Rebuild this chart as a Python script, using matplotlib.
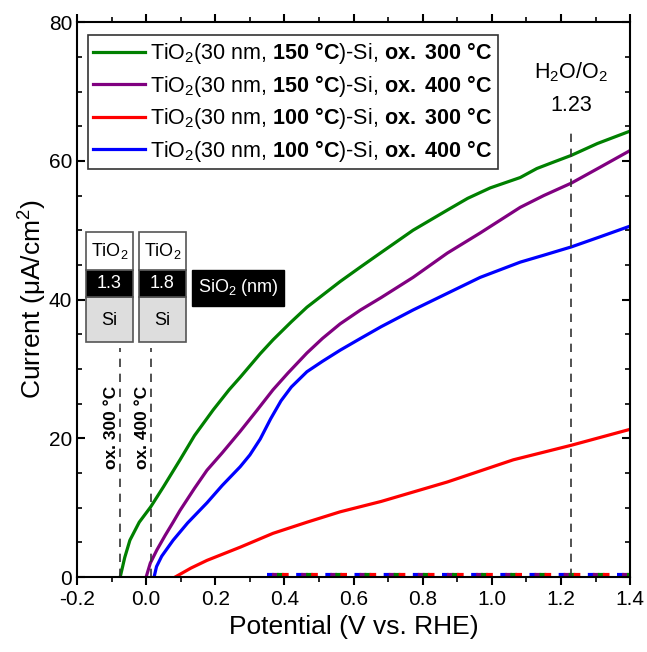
import matplotlib
matplotlib.use("Agg")
from matplotlib import pyplot as plt
from matplotlib.patches import Rectangle
from matplotlib.ticker import MultipleLocator

plt.rcParams['font.family'] = ['Liberation Sans', 'DejaVu Sans']
plt.rcParams['mathtext.fontset'] = 'custom'
plt.rcParams['mathtext.rm'] = 'Liberation Sans'
plt.rcParams['mathtext.it'] = 'Liberation Sans:italic'
plt.rcParams['mathtext.bf'] = 'Liberation Sans:bold'

# light currents
x_g150_300 = [-0.075, -0.062, -0.047, -0.02, 0.013, 0.05, 0.098, 0.14, 0.194, 0.24, 0.272, 0.33, 0.367, 0.42, 0.465, 0.561, 0.62, 0.68, 0.772, 0.871, 0.93, 0.995, 1.082, 1.13, 1.177, 1.23, 1.305, 1.4]
y_g150_300 = [0.0, 2.8, 5.3, 7.9, 10.1, 13.0, 16.9, 20.4, 24.1, 27.0, 28.8, 32.2, 34.2, 36.8, 38.9, 42.6, 44.7, 46.8, 50.0, 52.9, 54.6, 56.1, 57.6, 58.9, 59.8, 60.8, 62.5, 64.3]

x_g150_400 = [0.0, 0.012, 0.031, 0.055, 0.078, 0.098, 0.14, 0.176, 0.22, 0.272, 0.32, 0.367, 0.41, 0.465, 0.51, 0.561, 0.62, 0.68, 0.772, 0.871, 0.966, 1.082, 1.15, 1.23, 1.31, 1.4]
y_g150_400 = [0.0, 2.0, 3.9, 6.0, 7.9, 9.6, 12.8, 15.4, 17.9, 21.0, 24.0, 27.0, 29.4, 32.3, 34.4, 36.5, 38.5, 40.3, 43.2, 46.7, 49.6, 53.3, 55.0, 56.8, 59.0, 61.5]

x_g100_300 = [0.084, 0.13, 0.176, 0.272, 0.367, 0.465, 0.561, 0.68, 0.871, 1.062, 1.23, 1.4]
y_g100_300 = [0.0, 1.3, 2.4, 4.3, 6.3, 7.9, 9.4, 10.9, 13.7, 16.9, 19.0, 21.3]

x_g100_400 = [0.023, 0.03, 0.045, 0.078, 0.12, 0.176, 0.22, 0.272, 0.3, 0.33, 0.36, 0.39, 0.42, 0.465, 0.51, 0.561, 0.62, 0.68, 0.772, 0.871, 0.966, 1.082, 1.15, 1.23, 1.31, 1.4]
y_g100_400 = [0.0, 1.5, 3.0, 5.3, 7.8, 10.7, 13.2, 15.9, 17.6, 19.9, 22.8, 25.4, 27.4, 29.6, 31.1, 32.7, 34.4, 36.1, 38.5, 40.9, 43.2, 45.4, 46.4, 47.6, 49.0, 50.6]

# dark currents (dashed, near zero)
x_dark = [0.35, 1.4]
y_dark = [0.3, 0.3]

labels = [r'TiO$_2$(30 nm, $\mathbf{150}$ $\mathbf{°C}$)-Si, $\mathbf{ox.}$ $\mathbf{300}$ $\mathbf{°C}$',
          r'TiO$_2$(30 nm, $\mathbf{150}$ $\mathbf{°C}$)-Si, $\mathbf{ox.}$ $\mathbf{400}$ $\mathbf{°C}$',
          r'TiO$_2$(30 nm, $\mathbf{100}$ $\mathbf{°C}$)-Si, $\mathbf{ox.}$ $\mathbf{300}$ $\mathbf{°C}$',
          r'TiO$_2$(30 nm, $\mathbf{100}$ $\mathbf{°C}$)-Si, $\mathbf{ox.}$ $\mathbf{400}$ $\mathbf{°C}$']
colors = ['#008000', '#800080', '#ff0000', '#0000ff']

onsets = [-0.075, 0.015]
onset_labels = ['ox. 300 °C', 'ox. 400 °C']
sio2 = ['1.3', '1.8']
water_ox = 1.23

fig = plt.figure(figsize=(6.47, 6.52), dpi=100)
ax = fig.add_axes([0.119, 0.115, 0.855, 0.851])

series = [(x_g150_300, y_g150_300), (x_g150_400, y_g150_400),
          (x_g100_300, y_g100_300), (x_g100_400, y_g100_400)]
for (xs, ys), c, lab in zip(series, colors, labels):
    ax.plot(xs, ys, color=c, lw=2.3, label=lab)

for k, c in enumerate(['#0000ff', '#800080', '#008000', '#ff0000']):
    ax.plot(x_dark, y_dark, color=c, lw=3.0, ls=(-k * 1.2, (1.6, 5.4)), zorder=2,
            clip_on=False)

# reference dashed lines
for xo in onsets:
    ax.plot([xo, xo], [0, 33], color='#333333', lw=1.2, ls=(0, (5, 4)))
ax.plot([water_ox, water_ox], [0, 64.5], color='#333333', lw=1.2, ls=(0, (5, 4)))

ax.text(water_ox, 72.8, r'H$_2$O/O$_2$', ha='center', va='center', fontsize=15.5)
ax.text(water_ox, 68.0, '1.23', ha='center', va='center', fontsize=15.5)

for xo, t in zip(onsets, onset_labels):
    ax.text(xo - 0.025, 21.5, t, rotation=90, ha='center', va='center',
            fontsize=12.5, fontweight='bold')

# layer stack insets
tr = ax.transAxes
for i, x0 in enumerate([0.0163, 0.1121]):
    w = 0.085
    ax.add_patch(Rectangle((x0, 0.4234), w, 0.0811, transform=tr,
                           facecolor='#dddddd', edgecolor='#555555', lw=1.2, zorder=5))
    ax.add_patch(Rectangle((x0, 0.5045), w, 0.0487, transform=tr,
                           facecolor='black', edgecolor='#555555', lw=1.2, zorder=5))
    ax.add_patch(Rectangle((x0, 0.5532), w, 0.0684, transform=tr,
                           facecolor='white', edgecolor='#555555', lw=1.2, zorder=5))
    ax.text(x0 + w / 2, 0.587, r'TiO$_2$', transform=tr, ha='center', va='center',
            fontsize=13, zorder=6)
    ax.text(x0 + w / 2, 0.529, sio2[i], transform=tr, ha='center', va='center',
            fontsize=13, color='white', zorder=6)
    ax.text(x0 + w / 2, 0.462, 'Si', transform=tr, ha='center', va='center',
            fontsize=13, zorder=6)
ax.add_patch(Rectangle((0.208, 0.4883), 0.1663, 0.0649, transform=tr,
                       facecolor='black', edgecolor='black', zorder=5))
ax.text(0.291, 0.521, r'SiO$_2$ (nm)', transform=tr, ha='center', va='center',
        fontsize=13, color='white', zorder=6)

ax.set_xlim(-0.2, 1.4)
ax.set_ylim(0, 80)
ax.xaxis.set_major_locator(MultipleLocator(0.2))
ax.xaxis.set_minor_locator(MultipleLocator(0.1))
ax.yaxis.set_major_locator(MultipleLocator(20))
ax.yaxis.set_minor_locator(MultipleLocator(5))
ax.set_xticks([-0.2, 0.0, 0.2, 0.4, 0.6, 0.8, 1.0, 1.2, 1.4])
ax.set_xticklabels(['-0.2', '0.0', '0.2', '0.4', '0.6', '0.8', '1.0', '1.2', '1.4'])

ax.tick_params(axis='x', which='both', direction='out', top=True, labelsize=15)
ax.tick_params(axis='y', which='both', direction='in', right=True, labelsize=15)
ax.tick_params(which='major', length=6, width=1.5)
ax.tick_params(which='minor', length=3.5, width=1.2)
for s in ax.spines.values():
    s.set_linewidth(1.5)

ax.set_xlabel('Potential (V vs. RHE)', fontsize=19)
ax.set_ylabel(r'Current ($\mathregular{\mu}$A/cm$^2$)', fontsize=19, labelpad=0)

leg = ax.legend(loc='upper left', bbox_to_anchor=(0.012, 0.985), fontsize=15.5,
                handlelength=2.4, handletextpad=0.25, labelspacing=0.3,
                borderpad=0.25, borderaxespad=0.2, fancybox=False,
                edgecolor='#333333', framealpha=1)
leg.get_frame().set_linewidth(1.2)

fig.savefig('out.png', dpi=100)
